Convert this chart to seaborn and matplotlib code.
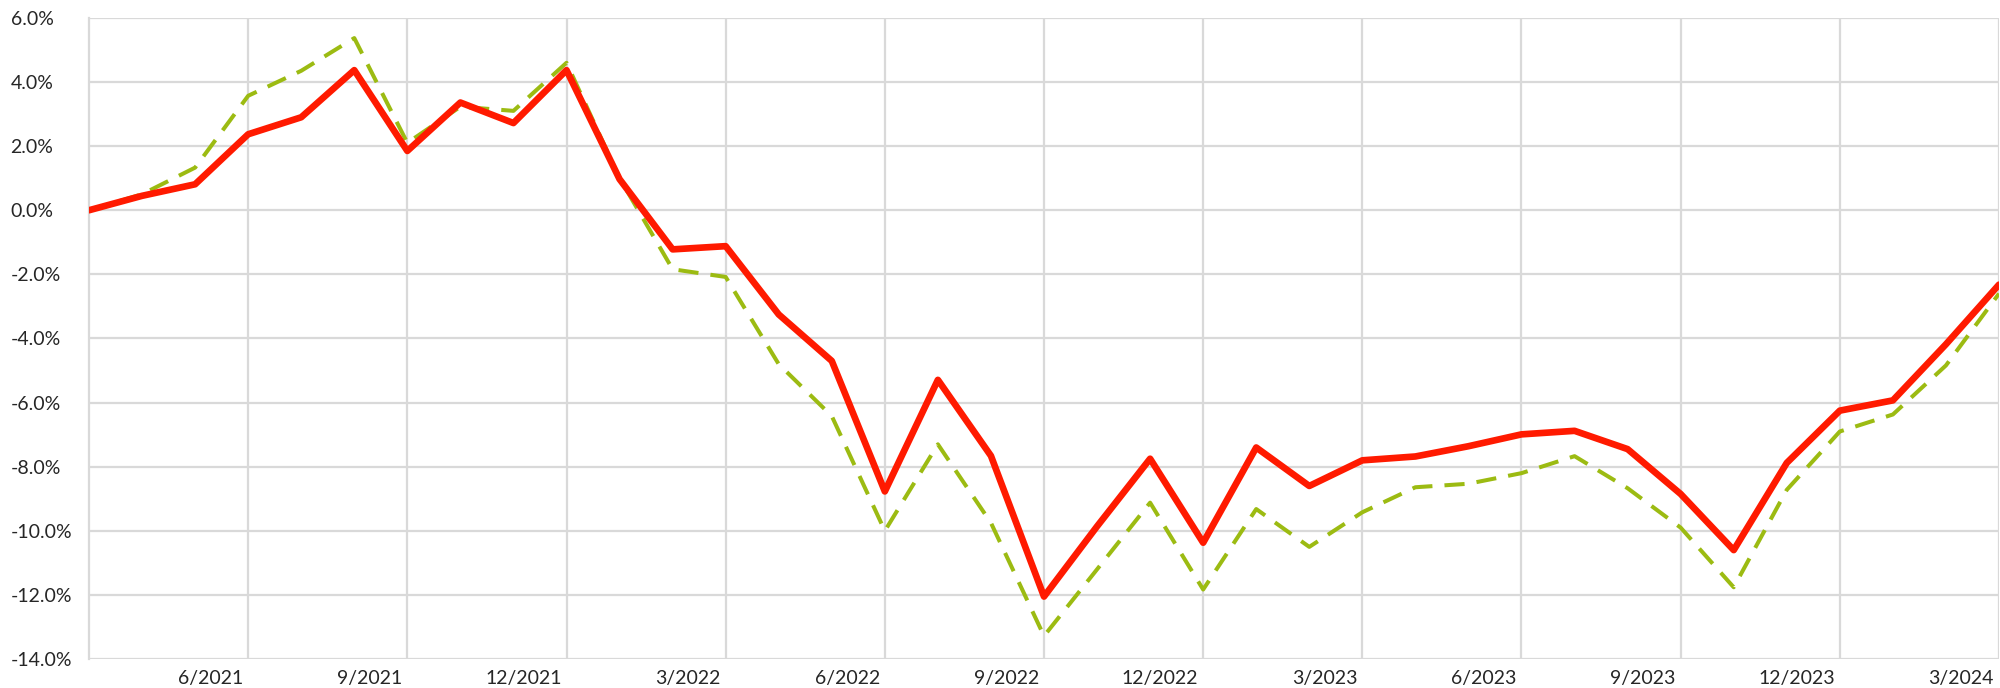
import matplotlib
matplotlib.use("Agg")
import matplotlib.pyplot as plt
import matplotlib.transforms as mtransforms
import seaborn as sns
import pandas as pd

# monthly points, 3/2021 .. 3/2024
months = [
    "3/2021", "4/2021", "5/2021", "6/2021", "7/2021", "8/2021", "9/2021",
    "10/2021", "11/2021", "12/2021", "1/2022", "2/2022", "3/2022",
    "4/2022", "5/2022", "6/2022", "7/2022", "8/2022", "9/2022",
    "10/2022", "11/2022", "12/2022", "1/2023", "2/2023", "3/2023",
    "4/2023", "5/2023", "6/2023", "7/2023", "8/2023", "9/2023",
    "10/2023", "11/2023", "12/2023", "1/2024", "2/2024", "3/2024",
]

red_series = [
    0.0, 0.45, 0.81, 2.37, 2.9, 4.37, 1.85, 3.36, 2.72, 4.37, 0.97, -1.22, -1.12,
    -3.25, -4.7, -8.77, -5.29, -7.66, -12.05, -9.86, -7.75, -10.37, -7.4, -8.6, -7.8,
    -7.68, -7.36, -6.99, -6.88, -7.45, -8.85, -10.6, -7.88, -6.25, -5.93, -4.18, -2.32,
]

green_series = [
    0.0, 0.5, 1.33, 3.57, 4.35, 5.37, 2.1, 3.23, 3.1, 4.6, 1.0, -1.84, -2.08,
    -4.8, -6.42, -10.0, -7.3, -9.75, -13.28, -11.2, -9.12, -11.83, -9.32, -10.5, -9.42,
    -8.64, -8.53, -8.2, -7.67, -8.67, -9.9, -11.76, -8.72, -6.9, -6.37, -4.84, -2.6,
]

tick_labels = ["6/2021", "9/2021", "12/2021", "3/2022", "6/2022", "9/2022",
               "12/2022", "3/2023", "6/2023", "9/2023", "12/2023", "3/2024"]
y_ticks = [-14, -12, -10, -8, -6, -4, -2, 0, 2, 4, 6]

df = pd.DataFrame({"idx": range(len(months)), "month": months,
                   "red": red_series, "green": green_series})

sns.set_style("white")
plt.rcParams["font.family"] = ["Lato", "DejaVu Sans"]

fig = plt.figure(figsize=(20, 6.88), dpi=100)
ax = fig.add_axes([0.0445, 0.042, 0.955, 0.932])

grid_c = "#d9d9d9"
sns.lineplot(data=df, x="idx", y="green", ax=ax, color="#9cbb12",
             linewidth=2.9, zorder=3)
ax.lines[-1].set_dashes((5, 3))
sns.lineplot(data=df, x="idx", y="red", ax=ax, color="#ff1a00",
             linewidth=4.8, zorder=4)

ax.set_xlim(0, len(months) - 1)
ax.set_ylim(-14, 6)

quarter_pos = [months.index(t) for t in tick_labels]
ax.set_xticks(quarter_pos)
ax.set_xticklabels(tick_labels)
ax.set_yticks(y_ticks)
ax.set_yticklabels([f"{v:.1f}%" for v in y_ticks])

ax.grid(True, color=grid_c, linewidth=1.6)
ax.set_axisbelow(True)
for s in ["top", "right", "bottom"]:
    ax.spines[s].set_visible(False)
ax.spines["left"].set_color(grid_c)
ax.spines["left"].set_linewidth(1.6)

ax.tick_params(axis="both", colors=grid_c, width=1.6, labelcolor="#262626",
               labelsize=14)
# y labels sit flush left near the figure edge
ax.tick_params(axis="y", length=11.5, pad=45)
ax.tick_params(axis="x", length=9, pad=-1)
for lbl in ax.get_yticklabels():
    lbl.set_horizontalalignment("left")

offset = mtransforms.ScaledTranslation(-5 / 100, 0, fig.dpi_scale_trans)
for lbl in ax.get_xticklabels():
    lbl.set_horizontalalignment("right")
    lbl.set_transform(lbl.get_transform() + offset)

ax.set_xlabel("")
ax.set_ylabel("")

fig.savefig("out.png", dpi=100)
